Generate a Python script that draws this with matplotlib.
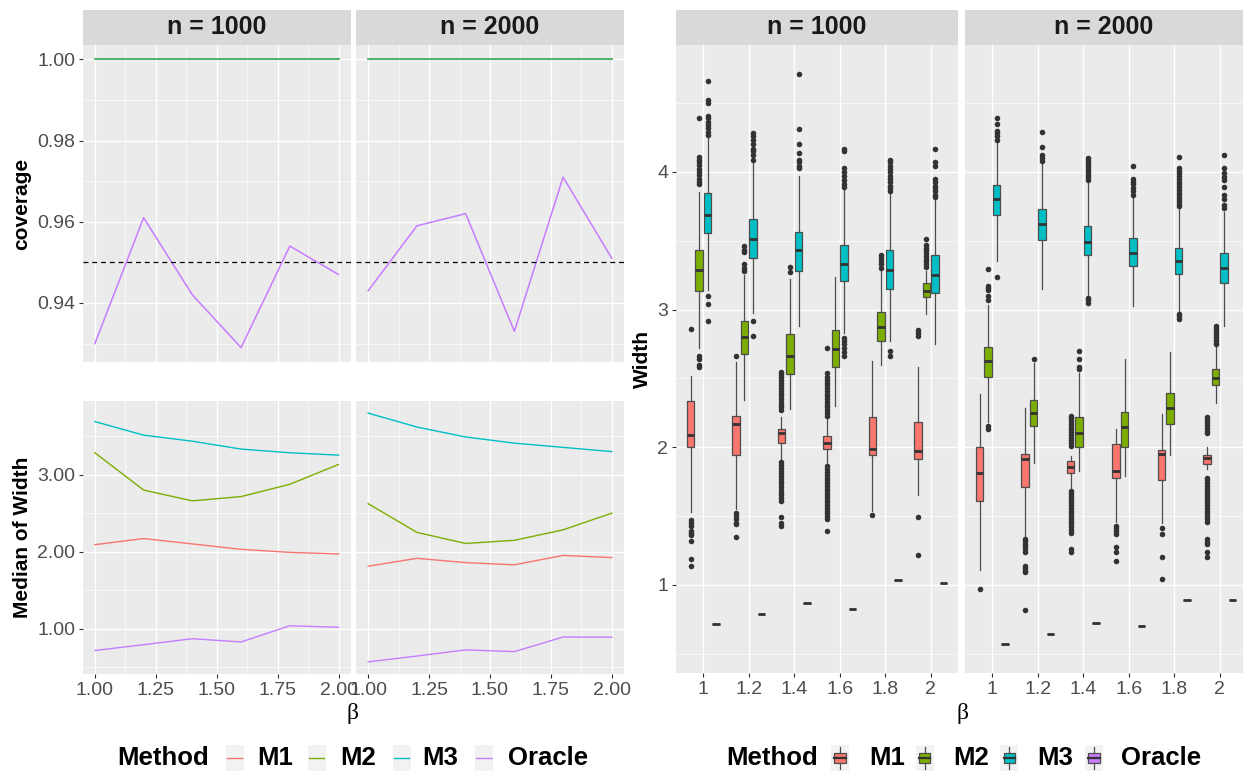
import matplotlib
matplotlib.use("Agg")
import matplotlib.pyplot as plt
from matplotlib.patches import Rectangle

plt.rcParams['font.family'] = ['Liberation Sans', 'DejaVu Sans']

W, H = 1243, 773

beta = [1.0, 1.2, 1.4, 1.6, 1.8, 2.0]
beta_lab = ["1", "1.2", "1.4", "1.6", "1.8", "2"]
methods = ["M1", "M2", "M3", "Oracle"]
colors = ["#F8766D", "#7CAE00", "#00BFC4", "#C77CFF"]
panels = ["n = 1000", "n = 2000"]

# coverage
cov_1000 = [[1.000, 1.000, 1.000, 1.000, 1.000, 1.000],
            [1.000, 1.000, 1.000, 1.000, 1.000, 1.000],
            [1.000, 1.000, 1.000, 1.000, 1.000, 1.000],
            [0.930, 0.961, 0.942, 0.929, 0.954, 0.947]]
cov_2000 = [[1.000, 1.000, 1.000, 1.000, 1.000, 1.000],
            [1.000, 1.000, 1.000, 1.000, 1.000, 1.000],
            [1.000, 1.000, 1.000, 1.000, 1.000, 1.000],
            [0.943, 0.959, 0.962, 0.933, 0.971, 0.951]]
target = 0.95

# width boxplot summaries, rows = M1, M2, M3, Oracle
lo_1000 = [[1.53, 1.55, 1.91, 1.87, 1.54, 1.65],
           [2.72, 2.34, 2.275, 2.30, 2.60, 2.97],
           [3.145, 2.976, 2.88, 2.83, 2.77, 2.75],
           [0.715, 0.79, 0.868, 0.826, 1.036, 1.017]]
q1_1000 = [[2.005, 1.94, 2.03, 1.99, 1.947, 1.913],
           [3.135, 2.676, 2.53, 2.585, 2.77, 3.09],
           [3.56, 3.377, 3.283, 3.205, 3.15, 3.12],
           [0.715, 0.79, 0.868, 0.826, 1.036, 1.017]]
med_1000 = [[2.09, 2.17, 2.10, 2.03, 1.99, 1.97],
            [3.285, 2.80, 2.66, 2.715, 2.875, 3.133],
            [3.69, 3.514, 3.435, 3.333, 3.285, 3.254],
            [0.715, 0.79, 0.868, 0.826, 1.036, 1.017]]
q3_1000 = [[2.336, 2.227, 2.135, 2.078, 2.222, 2.186],
           [3.43, 2.915, 2.82, 2.85, 2.98, 3.19],
           [3.845, 3.657, 3.563, 3.47, 3.43, 3.393],
           [0.715, 0.79, 0.868, 0.826, 1.036, 1.017]]
hi_1000 = [[2.52, 2.62, 2.22, 2.215, 2.63, 2.58],
           [3.857, 3.254, 3.22, 3.237, 3.295, 3.28],
           [4.256, 4.063, 3.97, 3.87, 3.85, 3.80],
           [0.715, 0.79, 0.868, 0.826, 1.036, 1.017]]
out_1000 = [
    [[2.86, 1.47, 1.45, 1.43, 1.39, 1.38, 1.36, 1.32, 1.19, 1.14],
     [2.66, 1.52, 1.50, 1.48, 1.45, 1.44, 1.35],
     [2.27, 2.29, 2.31, 2.33, 2.35, 2.37, 2.39, 2.41, 2.43, 2.45, 2.47, 2.49, 2.51, 2.53, 2.55,
      1.89, 1.87, 1.85, 1.83, 1.81, 1.79, 1.77, 1.75, 1.73, 1.71, 1.69, 1.67, 1.65, 1.63, 1.61,
      1.49, 1.45, 1.43],
     [2.23, 2.25, 2.27, 2.29, 2.31, 2.33, 2.35, 2.37, 2.39, 2.41, 2.43, 2.45, 2.47, 2.49, 2.51,
      2.54, 2.72,
      1.86, 1.84, 1.82, 1.80, 1.78, 1.76, 1.74, 1.72, 1.70, 1.68, 1.66, 1.64, 1.62, 1.60, 1.58,
      1.56, 1.54, 1.52, 1.50, 1.48, 1.39],
     [1.507],
     [2.85, 2.83, 2.81, 1.49, 1.22]],
    [[4.39, 4.11, 4.09, 4.07, 4.05, 4.02, 4.00, 3.98, 3.95, 3.93, 3.91, 2.66, 2.64, 2.60, 2.58],
     [3.46, 3.43, 3.42, 3.33, 3.30, 3.28],
     [3.31, 3.27],
     [],
     [3.40, 3.375, 3.35, 3.33, 3.30],
     [3.31, 3.33, 3.35, 3.37, 3.39, 3.41, 3.43, 3.45, 3.47, 3.51]],
    [[4.66, 4.52, 4.50, 4.41, 4.39, 4.36, 4.34, 4.32, 4.29, 4.27, 3.10, 3.04, 2.92],
     [4.285, 4.26, 4.23, 4.20, 4.17, 4.15, 4.12, 4.09, 2.915, 2.81],
     [4.715, 4.31, 4.20, 4.14, 4.09, 4.07, 4.04, 4.03],
     [4.17, 4.15, 4.03, 4.00, 3.97, 3.94, 3.91, 3.89, 2.79, 2.77, 2.75, 2.72, 2.69, 2.66],
     [4.09, 4.07, 4.04, 4.02, 4.00, 3.97, 3.95, 3.93, 3.90, 3.88, 3.86, 2.70, 2.66],
     [4.17, 4.07, 4.04, 3.95, 3.93, 3.90, 3.88, 3.86, 3.83, 3.82]],
    [[], [], [], [], [], []]]

lo_2000 = [[1.109, 1.346, 1.69, 1.46, 1.449, 1.84],
           [2.18, 1.889, 1.83, 1.788, 1.942, 2.324],
           [3.35, 3.15, 3.085, 3.024, 2.976, 2.88],
           [0.567, 0.643, 0.723, 0.70, 0.89, 0.888]]
q1_2000 = [[1.607, 1.71, 1.81, 1.78, 1.76, 1.877],
           [2.51, 2.157, 1.998, 2.005, 2.167, 2.449],
           [3.686, 3.507, 3.396, 3.317, 3.26, 3.196],
           [0.567, 0.643, 0.723, 0.70, 0.89, 0.888]]
med_2000 = [[1.81, 1.913, 1.857, 1.828, 1.951, 1.922],
            [2.623, 2.25, 2.106, 2.147, 2.283, 2.50],
            [3.80, 3.62, 3.49, 3.41, 3.355, 3.30],
            [0.567, 0.643, 0.723, 0.70, 0.89, 0.888]]
q3_2000 = [[1.998, 1.954, 1.90, 2.024, 1.98, 1.94],
           [2.73, 2.34, 2.22, 2.258, 2.396, 2.57],
           [3.904, 3.73, 3.61, 3.517, 3.45, 3.41],
           [0.567, 0.643, 0.723, 0.70, 0.89, 0.888]]
hi_2000 = [[2.39, 2.283, 1.937, 2.13, 2.244, 1.998],
           [3.03, 2.614, 2.54, 2.643, 2.693, 2.734],
           [4.22, 4.075, 3.93, 3.81, 3.737, 3.71],
           [0.567, 0.643, 0.723, 0.70, 0.89, 0.888]]
out_2000 = [
    [[0.969],
     [1.333, 1.32, 1.30, 1.28, 1.26, 1.24, 1.14, 1.12, 1.10, 1.09, 0.814],
     [2.01, 2.03, 2.05, 2.07, 2.09, 2.11, 2.13, 2.15, 2.17, 2.19, 2.21, 2.23,
      1.68, 1.66, 1.64, 1.62, 1.60, 1.58, 1.56, 1.54, 1.52, 1.50, 1.48, 1.46, 1.44, 1.42,
      1.40, 1.38, 1.26, 1.237],
     [1.43, 1.41, 1.39, 1.37, 1.273, 1.24, 1.176],
     [1.41, 1.37, 1.20, 1.043],
     [2.10, 2.12, 2.14, 2.16, 2.18, 2.20, 2.22,
      1.78, 1.76, 1.74, 1.72, 1.70, 1.68, 1.66, 1.64, 1.62, 1.60, 1.58, 1.56, 1.54, 1.52,
      1.50, 1.48, 1.46, 1.33, 1.31, 1.30, 1.24, 1.20]],
    [[3.297, 3.174, 3.16, 3.145, 3.10, 3.07, 2.155, 2.13],
     [2.643],
     [2.70, 2.64, 2.58, 2.565],
     [],
     [],
     [2.88, 2.86, 2.84, 2.82, 2.80, 2.78, 2.76, 2.75]],
    [[4.39, 4.35, 4.30, 4.28, 4.26, 4.23, 3.234],
     [4.29, 4.18, 4.12, 4.10, 4.08],
     [4.10, 4.08, 4.06, 4.04, 4.02, 4.00, 3.98, 3.96, 3.94, 3.085, 3.07, 3.05],
     [4.04, 3.95, 3.93, 3.91, 3.88, 3.86, 3.83],
     [4.11, 4.03, 4.01, 3.99, 3.97, 3.95, 3.93, 3.91, 3.89, 3.87, 3.85, 3.83, 3.81, 3.79,
      3.77, 3.75, 2.97, 2.95, 2.93],
     [4.125, 4.03, 3.99, 3.966, 3.94, 3.89, 3.83, 3.80, 3.76, 3.74]],
    [[], [], [], [], [], []]]

cov_all = [cov_1000, cov_2000]
med_all = [med_1000, med_2000]
box_all = [(lo_1000, q1_1000, med_1000, q3_1000, hi_1000, out_1000),
           (lo_2000, q1_2000, med_2000, q3_2000, hi_2000, out_2000)]

fig = plt.figure(figsize=(W / 100, H / 100), dpi=100)


def px_ax(x0, y0, x1, y1):
    return fig.add_axes([x0 / W, 1 - y1 / H, (x1 - x0) / W, (y1 - y0) / H])


def style(ax):
    ax.set_facecolor('#EBEBEB')
    for s in ax.spines.values():
        s.set_visible(False)
    ax.set_axisbelow(True)
    ax.grid(which='major', color='white', lw=0.95)
    ax.grid(which='minor', color='white', lw=0.45)
    ax.tick_params(which='major', length=3, width=0.8, color='#333333',
                   labelcolor='#4D4D4D', labelsize=14, pad=2.5)
    ax.tick_params(which='minor', length=0)


def strip(x0, x1, label):
    s = px_ax(x0, 10, x1, 45)
    s.set_facecolor('#D9D9D9')
    s.set_xticks([])
    s.set_yticks([])
    for sp in s.spines.values():
        sp.set_visible(False)
    s.text(0.5, 0.5, label, ha='center', va='center', fontsize=18,
           fontweight='bold', color='#1A1A1A', transform=s.transAxes)


def padded(vals):
    lo, hi = min(vals), max(vals)
    d = (hi - lo) * 0.05
    return lo - d, hi + d


# ---------- left: coverage and median width lines ----------
cov_vals = [v for c in cov_all for row in c for v in row]
med_vals = [v for c in med_all for row in c for v in row]
left_x = [(82.7, 350.7), (356, 624)]

for k in range(2):
    x0, x1 = left_x[k]
    strip(x0, x1, panels[k])
    ax = px_ax(x0, 45, x1, 362)
    style(ax)
    for m in [0, 2, 1, 3]:
        ax.plot(beta, cov_all[k][m], color=colors[m], lw=1.1,
                alpha=0.55 if m == 1 else 1.0)
    ax.axhline(target, color='black', lw=0.9, ls=(0, (4, 3)))
    ax.set_xlim(0.95, 2.05)
    ax.set_ylim(*padded(cov_vals))
    ax.set_xticks([1.0, 1.25, 1.5, 1.75, 2.0])
    ax.set_xticks([1.125, 1.375, 1.625, 1.875], minor=True)
    ax.set_yticks([0.94, 0.96, 0.98, 1.00])
    ax.set_yticks([0.93, 0.95, 0.97, 0.99], minor=True)
    ax.tick_params(axis='x', length=0, labelbottom=False)
    if k == 0:
        ax.set_yticklabels(['0.94', '0.96', '0.98', '1.00'])
        ax.set_ylabel('coverage', fontsize=15, fontweight='bold', labelpad=4)
    else:
        ax.tick_params(axis='y', length=0, labelleft=False)

    ax2 = px_ax(x0, 400.7, x1, 674.3)
    style(ax2)
    for m in range(4):
        ax2.plot(beta, med_all[k][m], color=colors[m], lw=1.0)
    ax2.set_xlim(0.95, 2.05)
    ax2.set_ylim(*padded(med_vals))
    ax2.set_xticks([1.0, 1.25, 1.5, 1.75, 2.0])
    ax2.set_xticklabels(['1.00', '1.25', '1.50', '1.75', '2.00'])
    ax2.set_xticks([1.125, 1.375, 1.625, 1.875], minor=True)
    ax2.set_yticks([1, 2, 3])
    ax2.set_yticks([0.5, 1.5, 2.5, 3.5], minor=True)
    if k == 0:
        ax2.set_yticklabels(['1.00', '2.00', '3.00'])
        ax2.set_ylabel('Median of Width', fontsize=15, fontweight='bold', labelpad=4)
    else:
        ax2.tick_params(axis='y', length=0, labelleft=False)

fig.text(353 / W, 1 - 713 / H, 'β', ha='center', va='center', fontsize=17,
         family=['Liberation Serif', 'DejaVu Serif'])

# ---------- right: width boxplots ----------
offsets = [-0.281, -0.094, 0.094, 0.281]
box_vals = []
for b in box_all:
    for m in range(4):
        for j in range(6):
            box_vals += [b[0][m][j], b[4][m][j]] + list(b[5][m][j])
right_x = [(676, 958, 6.6), (965, 1243, 6.51)]

for k in range(2):
    x0, x1, xr = right_x[k]
    strip(x0, x1, panels[k])
    ax = px_ax(x0, 45, x1, 673)
    style(ax)
    lo, q1, md, q3, hi, out = box_all[k]
    for m in range(4):
        stats = []
        pos = []
        for j in range(6):
            stats.append(dict(whislo=lo[m][j], q1=q1[m][j], med=md[m][j],
                              q3=q3[m][j], whishi=hi[m][j], fliers=out[m][j]))
            pos.append(j + 1 + offsets[m])
        ax.bxp(stats, positions=pos, widths=0.17, patch_artist=True,
               showcaps=False, manage_ticks=False,
               boxprops=dict(facecolor=colors[m], edgecolor='#4D4D4D', lw=0.9),
               medianprops=dict(color='#333333', lw=2.0),
               whiskerprops=dict(color='#4D4D4D', lw=0.9),
               flierprops=dict(marker='o', markersize=4, markerfacecolor='#333333',
                               markeredgecolor='#333333', markeredgewidth=0))
    ax.set_xlim(0.4, xr)
    ax.set_ylim(*padded(box_vals))
    ax.set_xticks(range(1, 7))
    ax.set_xticklabels(beta_lab)
    ax.grid(axis='x', which='minor', visible=False)
    ax.set_yticks([1, 2, 3, 4])
    ax.set_yticks([0.5, 1.5, 2.5, 3.5, 4.5], minor=True)
    if k == 0:
        ax.set_yticklabels(['1', '2', '3', '4'])
        ax.set_ylabel('Width', fontsize=15, fontweight='bold', labelpad=4)
    else:
        ax.tick_params(axis='y', length=0, labelleft=False)

fig.text(962 / W, 1 - 713 / H, 'β', ha='center', va='center', fontsize=17,
         family=['Liberation Serif', 'DejaVu Serif'])

# ---------- legends ----------
def legend_key(cx, kind, col):
    k = px_ax(cx - 9, 745, cx + 9, 771)
    k.set_facecolor('#F2F2F2')
    k.set_xlim(0, 1)
    k.set_ylim(0, 1)
    k.set_xticks([])
    k.set_yticks([])
    for sp in k.spines.values():
        sp.set_visible(False)
    if kind == 'line':
        k.plot([0.08, 0.92], [0.5, 0.5], color=col, lw=1.0)
    else:
        k.plot([0.5, 0.5], [0.08, 0.3], color='#4D4D4D', lw=0.9)
        k.plot([0.5, 0.5], [0.7, 0.92], color='#4D4D4D', lw=0.9)
        k.add_patch(Rectangle((0.18, 0.3), 0.64, 0.4, facecolor=col,
                              edgecolor='#4D4D4D', lw=0.9))
        k.plot([0.18, 0.82], [0.5, 0.5], color='#333333', lw=1.6)


ly = 1 - 758 / H
fig.text(117 / W, ly, 'Method', ha='left', va='center', fontsize=18.5, fontweight='bold')
for cx, tx, m in zip([234.8, 316.7, 401.5, 484], [257, 340, 422, 508], range(4)):
    legend_key(cx, 'line', colors[m])
    fig.text(tx / W, ly, methods[m], ha='left', va='center', fontsize=18.5, fontweight='bold')

fig.text(726 / W, ly, 'Method', ha='left', va='center', fontsize=18.5, fontweight='bold')
for cx, tx, m in zip([840, 924.6, 1009.3, 1093.9], [869, 953, 1037, 1121], range(4)):
    legend_key(cx, 'box', colors[m])
    fig.text(tx / W, ly, methods[m], ha='left', va='center', fontsize=18.5, fontweight='bold')

fig.savefig('out.png', dpi=100)
